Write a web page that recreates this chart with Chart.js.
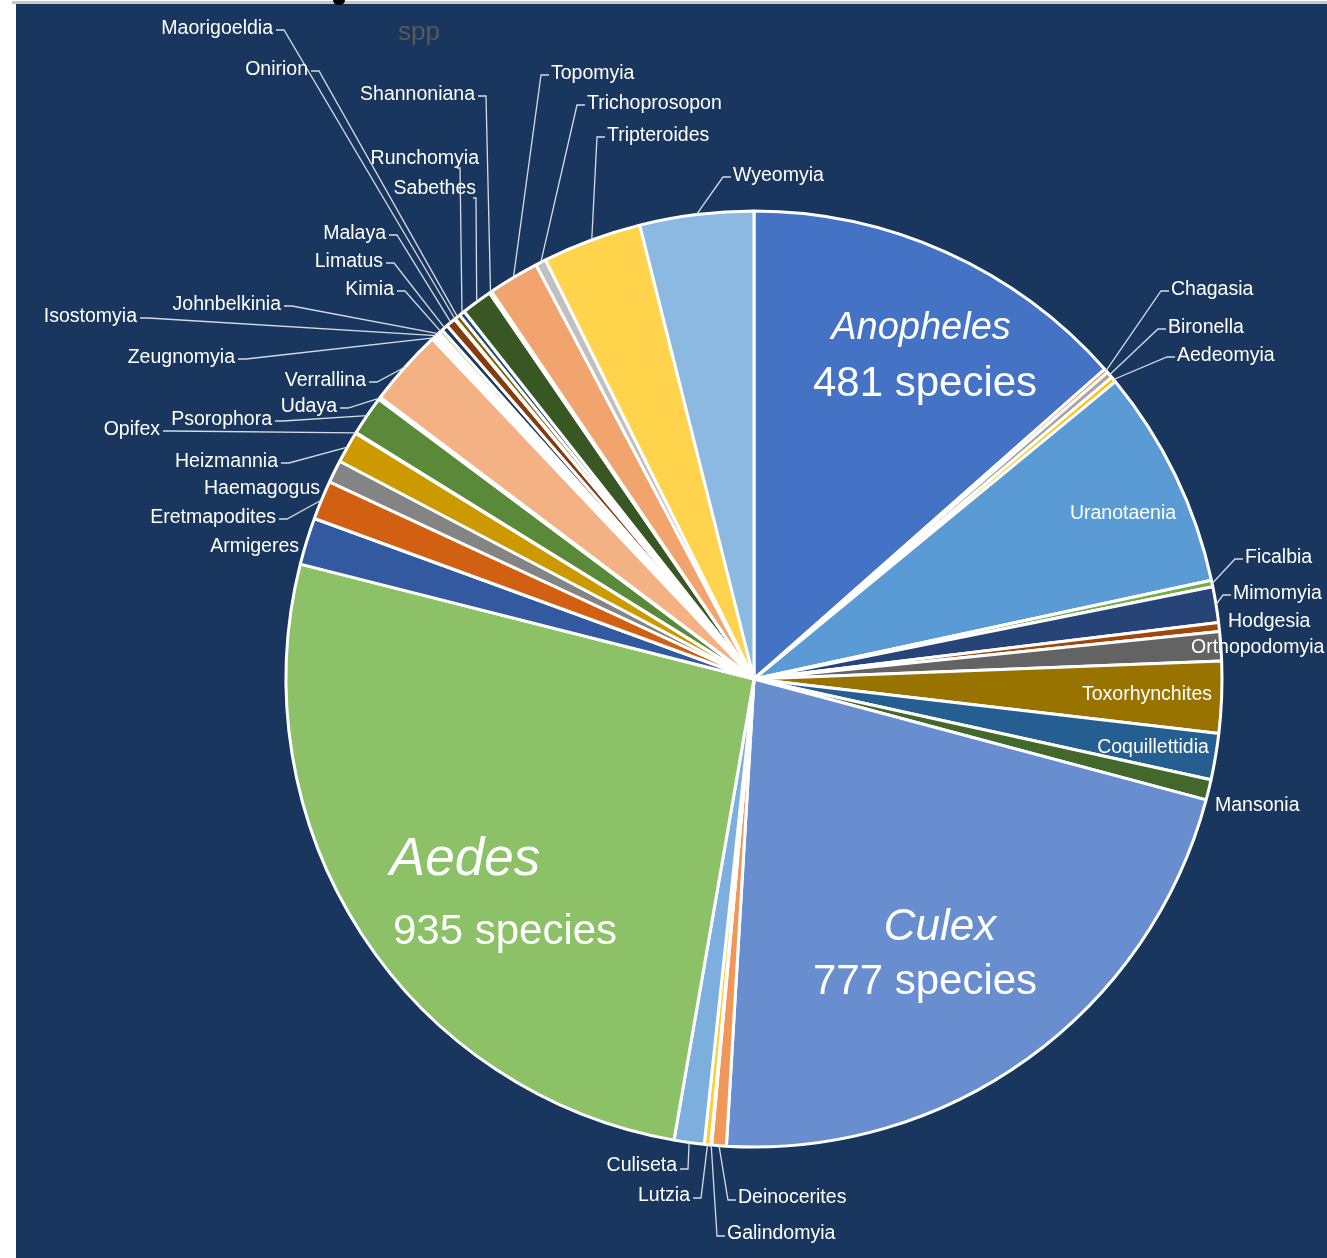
<!DOCTYPE html>
<html>
<head>
<meta charset="utf-8">
<title>Mosquito genera</title>
<script src="https://cdn.jsdelivr.net/npm/chart.js@4/dist/chart.umd.min.js"></script>
<style>
  html, body { margin: 0; padding: 0; background: #fff; overflow: hidden; }
  canvas { display: block; }
</style>
</head>
<body>
<canvas id="pie" width="1327" height="1258"></canvas>
<script>
// Genera of Culicidae, clockwise from 12 o'clock
const genera = [
  'Anopheles', 'Chagasia', 'Bironella', 'Aedeomyia', 'Uranotaenia', 'Ficalbia', 'Mimomyia',
  'Hodgesia', 'Orthopodomyia', 'Toxorhynchites', 'Coquillettidia', 'Mansonia', 'Culex',
  'Deinocerites', 'Galindomyia', 'Lutzia', 'Culiseta', 'Aedes', 'Armigeres', 'Eretmapodites',
  'Haemagogus', 'Heizmannia', 'Opifex', 'Psorophora', 'Udaya', 'Verrallina', 'Zeugnomyia',
  'Isostomyia', 'Johnbelkinia', 'Kimia', 'Limatus', 'Malaya', 'Maorigoeldia', 'Onirion',
  'Runchomyia', 'Sabethes', 'Shannoniana', 'Topomyia', 'Trichoprosopon', 'Tripteroides', 'Wyeomyia'
];

// number of species per genus
const speciesCounts = [
  481, 5, 8, 7, 270, 8, 44,
  11, 36, 88, 57, 25, 777,
  18, 1, 8, 37, 935, 58, 48,
  28, 39, 1, 49, 3, 95, 4,
  4, 3, 5, 8, 12, 1, 7,
  7, 38, 3, 63, 13, 122, 140
];

// genera that get the big italic name + species count
const featured = ['Anopheles', 'Culex', 'Aedes'];

// office-style slice palette
const sliceColors = [
  '#4472C4', '#ED7D31', '#A5A5A5', '#FFC000', '#5B9BD5', '#70AD47',
  '#264478', '#9E480E', '#636363', '#997300', '#255E91', '#43682B',
  '#698ED0', '#F1975A', '#B7B7B7', '#FFCD33', '#7CAFDD', '#8CC168',
  '#335AA1', '#D26012', '#848484', '#CC9A00', '#327DC2', '#5A8A39',
  '#8FAADC', '#F4B183', '#C9C9C9', '#FFD966', '#9DC3E6', '#A9D18E',
  '#203864', '#843C0C', '#525252', '#7F6000', '#1F4E79', '#385723',
  '#7C9CD6', '#F2A46F', '#C0C0C0', '#FFD34C', '#8CB9E2'
];

// where each name sits: x,y of text, alignment, and how the leader line leaves it
// lead: 'r' = from right end, 'l' = from left end, 'b' = from below at bx, null = none
const labelPos = {
  Chagasia:       { x: 1171, y: 288, align: 'left',  lead: 'l' },
  Bironella:      { x: 1168, y: 326, align: 'left',  lead: 'l' },
  Aedeomyia:      { x: 1177, y: 354, align: 'left',  lead: 'l' },
  Uranotaenia:    { x: 1123, y: 512, align: 'center', lead: null },
  Ficalbia:       { x: 1245, y: 556, align: 'left',  lead: 'l' },
  Mimomyia:       { x: 1233, y: 592, align: 'left',  lead: 'l' },
  Hodgesia:       { x: 1228, y: 620, align: 'left',  lead: null },
  Orthopodomyia:  { x: 1191, y: 646, align: 'left',  lead: null },
  Toxorhynchites: { x: 1147, y: 693, align: 'center', lead: null },
  Coquillettidia: { x: 1153, y: 746, align: 'center', lead: null },
  Mansonia:       { x: 1215, y: 804, align: 'left',  lead: null },
  Deinocerites:   { x: 738,  y: 1196, align: 'left', lead: 'l', dy: 4 },
  Galindomyia:    { x: 727,  y: 1232, align: 'left', lead: 'l', dy: 4 },
  Lutzia:         { x: 690,  y: 1194, align: 'right', lead: 'r', dy: 4 },
  Culiseta:       { x: 677,  y: 1164, align: 'right', lead: 'r', dy: 5 },
  Armigeres:      { x: 299,  y: 545, align: 'right', lead: null },
  Eretmapodites:  { x: 276,  y: 516, align: 'right', lead: 'r' },
  Haemagogus:     { x: 320,  y: 487, align: 'right', lead: null },
  Heizmannia:     { x: 278,  y: 460, align: 'right', lead: 'r' },
  Opifex:         { x: 160,  y: 428, align: 'right', lead: 'r' },
  Psorophora:     { x: 272,  y: 418, align: 'right', lead: 'r' },
  Udaya:          { x: 337,  y: 405, align: 'right', lead: 'r' },
  Verrallina:     { x: 366,  y: 379, align: 'right', lead: 'r' },
  Zeugnomyia:     { x: 235,  y: 356, align: 'right', lead: 'r' },
  Isostomyia:     { x: 137,  y: 315, align: 'right', lead: 'r' },
  Johnbelkinia:   { x: 281,  y: 303, align: 'right', lead: 'r' },
  Kimia:          { x: 394,  y: 288, align: 'right', lead: 'r' },
  Limatus:        { x: 383,  y: 260, align: 'right', lead: 'r' },
  Malaya:         { x: 386,  y: 232, align: 'right', lead: 'r' },
  Maorigoeldia:   { x: 273,  y: 27,  align: 'right', lead: 'r' },
  Onirion:        { x: 308,  y: 68,  align: 'right', lead: 'r' },
  Runchomyia:     { x: 479,  y: 157, align: 'right', lead: 'b', bx: 460 },
  Sabethes:       { x: 476,  y: 187, align: 'right', lead: 'b', bx: 476 },
  Shannoniana:    { x: 475,  y: 93,  align: 'right', lead: 'r' },
  Topomyia:       { x: 551,  y: 72,  align: 'left',  lead: 'l' },
  Trichoprosopon: { x: 587,  y: 102, align: 'left',  lead: 'l' },
  Tripteroides:   { x: 607,  y: 134, align: 'left',  lead: 'l' },
  Wyeomyia:       { x: 733,  y: 174, align: 'left',  lead: 'l' }
};

// big italic names and counts inside the three largest slices
const featuredPos = {
  Anopheles: { nx: 921, ny: 326, nsize: 38, cx: 925, cy: 382 },
  Aedes:     { nx: 465, ny: 858, nsize: 53, cx: 505, cy: 930 },
  Culex:     { nx: 940, ny: 926, nsize: 44, cx: 925, cy: 980 }
};

const FONT = '"Liberation Sans", Arial, Helvetica, sans-serif';
const TEXT_NUDGE = 2; // canvas 'middle' baseline sits a bit high for this font

// panel behind the pie
const backdrop = {
  id: 'backdrop',
  beforeDraw(chart) {
    const ctx = chart.ctx;
    ctx.save();
    ctx.fillStyle = '#ffffff';
    ctx.fillRect(0, 0, chart.width, chart.height);
    ctx.fillStyle = '#c9c9c9';
    ctx.fillRect(12, 1, chart.width - 12, 3);
    ctx.fillStyle = '#19375E';
    ctx.fillRect(16, 4, chart.width - 16, chart.height - 4);
    // descender of the cut-off heading above the panel
    ctx.fillStyle = '#000000';
    ctx.beginPath();
    ctx.roundRect(333, -6, 12, 11, 5);
    ctx.fill();
    ctx.fillStyle = '#595959';
    ctx.font = '26px ' + FONT;
    ctx.textAlign = 'center';
    ctx.textBaseline = 'middle';
    ctx.fillText('spp', 419, 31 + TEXT_NUDGE);
    ctx.restore();
  }
};

// outside names with leader lines, inside names, and the featured captions
const sliceLabels = {
  id: 'sliceLabels',
  afterDatasetsDraw(chart) {
    const ctx = chart.ctx;
    const arcs = chart.getDatasetMeta(0).data;
    ctx.save();
    ctx.textBaseline = 'middle';
    ctx.font = '19.5px ' + FONT;

    genera.forEach((name, i) => {
      const p = labelPos[name];
      if (!p) return;
      const arc = arcs[i];
      const mid = (arc.startAngle + arc.endAngle) / 2;
      const ax = arc.x + Math.cos(mid) * arc.outerRadius;
      const ay = arc.y + Math.sin(mid) * arc.outerRadius;
      const ly = p.y + (p.dy || 3);

      if (p.lead) {
        ctx.strokeStyle = '#d6dbe3';
        ctx.lineWidth = 1.3;
        ctx.beginPath();
        if (p.lead === 'r') {
          ctx.moveTo(p.x + 3, ly);
          ctx.lineTo(p.x + 11, ly);
        } else if (p.lead === 'l') {
          ctx.moveTo(p.x - 2, ly);
          ctx.lineTo(p.x - 10, ly);
        } else {
          ctx.moveTo(p.bx - 3, p.y + 11);
          ctx.lineTo(p.bx, p.y + 11);
        }
        ctx.lineTo(ax, ay);
        ctx.stroke();
      }

      ctx.fillStyle = '#ffffff';
      ctx.textAlign = p.align;
      ctx.fillText(name, p.x, p.y + TEXT_NUDGE);
    });

    featured.forEach(name => {
      const f = featuredPos[name];
      const i = genera.indexOf(name);
      ctx.fillStyle = '#ffffff';
      ctx.textAlign = 'center';
      ctx.font = 'italic ' + f.nsize + 'px ' + FONT;
      ctx.fillText(name, f.nx, f.ny + TEXT_NUDGE);
      ctx.font = '42px ' + FONT;
      ctx.fillText(speciesCounts[i] + ' species', f.cx, f.cy + TEXT_NUDGE);
    });
    ctx.restore();
  }
};

new Chart(document.getElementById('pie'), {
  type: 'pie',
  data: {
    labels: genera,
    datasets: [{
      data: speciesCounts,
      backgroundColor: sliceColors,
      borderColor: '#ffffff',
      borderWidth: 3,
      hoverOffset: 0
    }]
  },
  options: {
    responsive: false,
    animation: false,
    events: [],
    layout: { padding: { left: 284.5, right: 103.5, top: 209.5, bottom: 109.5 } },
    plugins: {
      legend: { display: false },
      tooltip: { enabled: false },
      title: { display: false }
    }
  },
  plugins: [backdrop, sliceLabels]
});
</script>
</body>
</html>
